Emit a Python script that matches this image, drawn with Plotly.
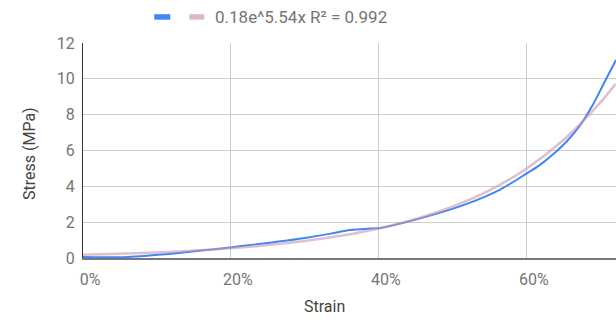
import plotly.graph_objects as go

strain = [0.0, 0.03, 0.06, 0.09, 0.13, 0.16, 0.2, 0.233, 0.267, 0.3, 0.335, 0.361, 0.375,
          0.388, 0.402, 0.429, 0.474, 0.519, 0.564, 0.6, 0.618, 0.636, 0.654, 0.672,
          0.69, 0.7035, 0.7207]
stress = [0.05, 0.04, 0.06, 0.14, 0.28, 0.42, 0.59, 0.76, 0.93, 1.12, 1.36, 1.56, 1.6,
          1.64, 1.68, 1.92, 2.42, 3.02, 3.82, 4.72, 5.2, 5.8, 6.5, 7.4,
          8.6, 9.68, 11.05]

# Exponential trendline values
trend_x = [0.0, 0.05, 0.1, 0.15, 0.2, 0.25, 0.3, 0.35, 0.4, 0.45, 0.5, 0.55, 0.6, 0.65, 0.7, 0.72]
trend_y = [0.18, 0.237, 0.313, 0.413, 0.545, 0.719, 0.949, 1.251, 1.651, 2.178, 2.873,
           3.79, 5.0, 6.6, 8.7, 9.72]
trend_label = "0.18e^5.54x R² = 0.992"

x_ticks = [0, 0.2, 0.4, 0.6]
y_ticks = [0, 2, 4, 6, 8, 10, 12]

FONT = "Roboto, Arial, sans-serif"
BLUE = "#4285F4"
PINK = "rgba(200,150,175,0.6)"
PINK_SWATCH = "#dcb8ca"

fig = go.Figure()
fig.add_trace(go.Scatter(x=strain, y=stress, mode="lines", name="",
                         line=dict(color=BLUE, width=2, shape="spline", smoothing=1)))
fig.add_trace(go.Scatter(x=trend_x, y=trend_y, mode="lines", name=trend_label,
                         line=dict(color=PINK, width=2.5, shape="spline")))

W, H = 616, 320
L, R, T, B = 82.7, 0, 43.3, 61.7
PW, PH = W - L - R, H - T - B

def px(x):
    return (x - L) / PW

def py(y):
    return (H - B - y) / PH

fig.update_layout(
    width=W, height=H,
    margin=dict(l=L, r=R, t=T, b=B, pad=0, autoexpand=False),
    paper_bgcolor="white", plot_bgcolor="white",
    font=dict(family=FONT, size=16, color="#757575"),
    showlegend=False,
    xaxis=dict(range=[0, 0.7207], tickvals=x_ticks, tickformat=".0%",
               showgrid=True, gridcolor="#cccccc", gridwidth=1,
               showline=True, linecolor="#777777", linewidth=1.5,
               zeroline=False, ticks="", ticklabelshift=7, ticklabelstandoff=6,
               automargin=False, tickfont=dict(size=16, color="#757575")),
    yaxis=dict(range=[0, 12], tickvals=y_ticks,
               showgrid=True, gridcolor="#cccccc", gridwidth=1,
               showline=True, linecolor="#333333", linewidth=1,
               zeroline=False, ticks="", ticklabelstandoff=4,
               automargin=False, tickfont=dict(size=16, color="#757575")),
    shapes=[
        dict(type="rect", xref="paper", yref="paper",
             x0=px(154), x1=px(170), y0=py(20), y1=py(14.5),
             fillcolor=BLUE, line=dict(width=0), layer="above"),
        dict(type="rect", xref="paper", yref="paper",
             x0=px(189), x1=px(204), y0=py(20), y1=py(14.5),
             fillcolor=PINK_SWATCH, line=dict(width=0), layer="above"),
    ],
    annotations=[
        dict(text=trend_label, x=px(213), y=py(17.5), xref="paper", yref="paper",
             xanchor="left", yanchor="middle", showarrow=False,
             font=dict(size=17, color="#757575")),
        dict(text="Strain", x=px(324), y=py(307), xref="paper", yref="paper",
             xanchor="center", yanchor="middle",
             showarrow=False, font=dict(size=16, color="#444444")),
        dict(text="Stress (MPa)", x=px(29), y=py(154), xref="paper", yref="paper",
             xanchor="center", yanchor="middle", textangle=-90,
             showarrow=False, font=dict(size=16, color="#444444")),
    ],
)

fig.write_html("out.html", post_script="document.body.style.margin='0';",
               config={"displayModeBar": False})
